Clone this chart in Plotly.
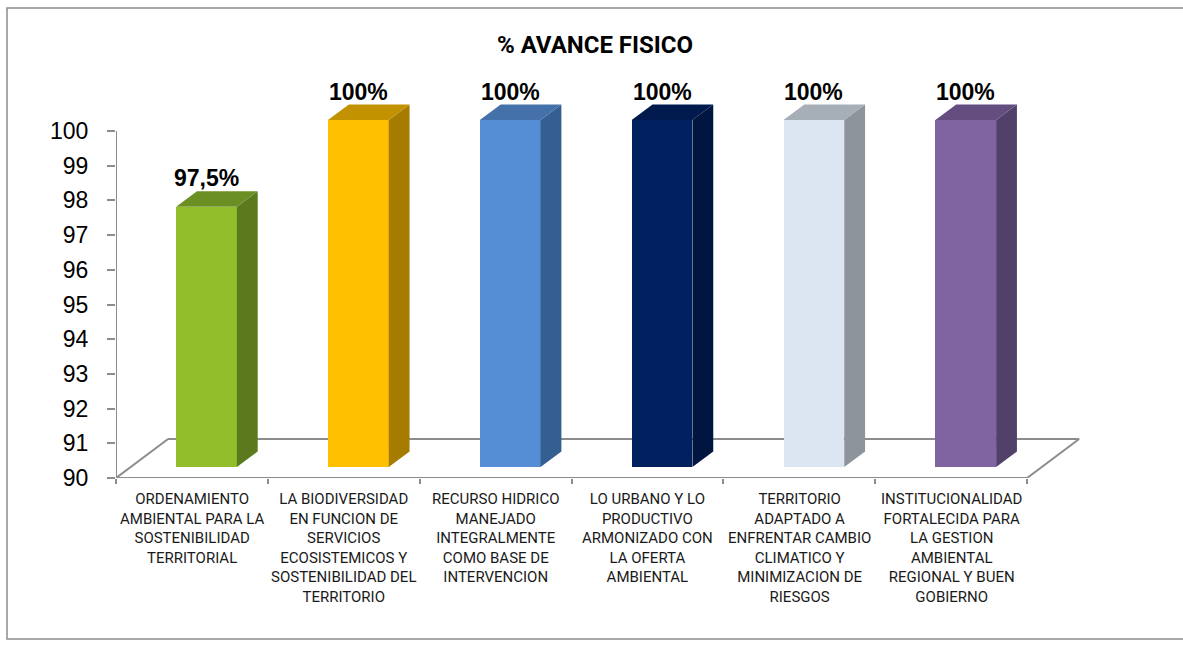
import plotly.graph_objects as go

# data
categorias = [
    "ORDENAMIENTO<br>AMBIENTAL PARA LA<br>SOSTENIBILIDAD<br>TERRITORIAL",
    "LA BIODIVERSIDAD<br>EN FUNCION DE<br>SERVICIOS<br>ECOSISTEMICOS Y<br>SOSTENIBILIDAD DEL<br>TERRITORIO",
    "RECURSO HIDRICO<br>MANEJADO<br>INTEGRALMENTE<br>COMO BASE DE<br>INTERVENCION",
    "LO URBANO Y LO<br>PRODUCTIVO<br>ARMONIZADO CON<br>LA OFERTA<br>AMBIENTAL",
    "TERRITORIO<br>ADAPTADO A<br>ENFRENTAR CAMBIO<br>CLIMATICO Y<br>MINIMIZACION DE<br>RIESGOS",
    "INSTITUCIONALIDAD<br>FORTALECIDA PARA<br>LA GESTION<br>AMBIENTAL<br>REGIONAL Y BUEN<br>GOBIERNO",
]
avance = [97.5, 100, 100, 100, 100, 100]
etiquetas = ["97,5%", "100%", "100%", "100%", "100%", "100%"]
y_ticks = list(range(90, 101))

# colores: frente, lado, techo
frente = ["#92BE2C", "#FFC000", "#558ED5", "#002060", "#DCE6F2", "#8064A2"]
lado = ["#5B7A1D", "#A67C00", "#355F91", "#001540", "#8D949C", "#51416A"]
techo = ["#6C8F24", "#C29200", "#4471AA", "#001A4D", "#A6AEB7", "#644E80"]

GRIS = "#8C8C8C"
BASE = 90
FDX, FDY = 0.343, 1.124   # profundidad del piso (x en categorias, y en unidades)
D0, D1 = 0.28, 0.68       # profundidad del frente y del fondo de la barra
ANCHO = 0.40

W, H = 1183, 646
L, R, T, B = 116, 80, 79, 168
pw, ph = W - L - R, H - T - B

n = len(avance)
fig = go.Figure()

# caras frontales
fig.add_trace(go.Bar(
    x=[i + D0 * FDX for i in range(n)],
    y=[v - BASE for v in avance],
    base=BASE + D0 * FDY,
    width=ANCHO,
    marker=dict(color=frente, line=dict(width=0)),
    hoverinfo="skip",
    showlegend=False,
))

dx, dy = (D1 - D0) * FDX, (D1 - D0) * FDY
for i, v in enumerate(avance):
    xl = i + D0 * FDX - ANCHO / 2
    xr = xl + ANCHO
    yb = BASE + D0 * FDY
    yt = v + D0 * FDY
    # lado
    fig.add_trace(go.Scatter(
        x=[xr, xr + dx, xr + dx, xr, xr],
        y=[yb, yb + dy, yt + dy, yt, yb],
        fill="toself", fillcolor=lado[i], mode="lines",
        line=dict(width=0), hoverinfo="skip", showlegend=False,
    ))
    # techo
    fig.add_trace(go.Scatter(
        x=[xl, xr, xr + dx, xl + dx, xl],
        y=[yt, yt, yt + dy, yt + dy, yt],
        fill="toself", fillcolor=techo[i], mode="lines",
        line=dict(width=0), hoverinfo="skip", showlegend=False,
    ))
    fig.add_annotation(
        x=i + D0 * FDX, y=v + D1 * FDY, text="<b>%s</b>" % etiquetas[i],
        showarrow=False, yanchor="bottom", yshift=-2,
        font=dict(family="Liberation Sans, Arial", size=23, color="black"),
    )
    fig.add_annotation(
        x=i, y=BASE, text=categorias[i], showarrow=False,
        yanchor="top", yshift=-10,
        font=dict(family="Roboto", size=15, color="#1a1a1a"),
    )

# piso y eje
x0, x1 = -0.5, n - 0.5
floor = [
    (x0, BASE, x1, BASE),
    (x0 + FDX, BASE + FDY, x1 + FDX, BASE + FDY),
    (x0, BASE, x0 + FDX, BASE + FDY),
    (x1, BASE, x1 + FDX, BASE + FDY),
    (x0, BASE, x0, 100),
]
for a, b, c, d in floor:
    fig.add_shape(type="line", x0=a, y0=b, x1=c, y1=d, layer="below",
                  line=dict(color=GRIS, width=2))

# marco
fig.add_shape(type="rect", xref="paper", yref="paper",
              x0=(7 - L) / pw, x1=(1190 - L) / pw,
              y0=(H - B - 639) / ph, y1=(H - B - 8) / ph,
              line=dict(color=GRIS, width=1.5), layer="below")

fig.update_layout(
    width=W, height=H,
    margin=dict(l=L, r=R, t=T, b=B),
    paper_bgcolor="white", plot_bgcolor="white",
    title=dict(text="<b>% AVANCE FISICO</b>", x=0.503, y=1 - 45 / H,
               xanchor="center", yanchor="middle",
               font=dict(family="Roboto", size=24, color="black")),
    xaxis=dict(range=[-0.5, 6.0], tickvals=[k - 0.5 for k in range(n + 1)],
               showticklabels=False, ticks="outside", ticklen=5, tickwidth=2,
               tickcolor=GRIS, showgrid=False, zeroline=False, showline=False),
    yaxis=dict(range=[90, 101.5], tickvals=y_ticks, ticks="outside", ticklen=8,
               tickwidth=2, tickcolor=GRIS, ticklabelstandoff=14,
               showgrid=False, zeroline=False, showline=False,
               tickfont=dict(family="Liberation Sans, Arial", size=23, color="black")),
    bargap=0,
)

fig.write_html("out.html", config={"displayModeBar": False},
               post_script="document.body.style.margin='0px';")
